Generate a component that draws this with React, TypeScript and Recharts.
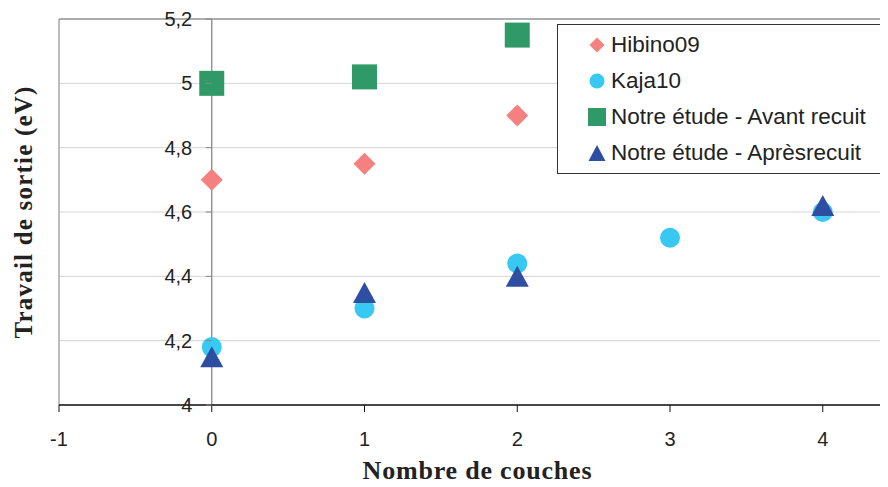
import React from "react";
import {
  ScatterChart,
  Scatter,
  XAxis,
  YAxis,
  CartesianGrid,
  ReferenceLine,
  Legend,
  Label,
} from "recharts";

// ---- data ----
const xTicks = [-1, 0, 1, 2, 3, 4];
const yTicks = [4, 4.2, 4.4, 4.6, 4.8, 5, 5.2];

const hibinoX = [0, 1, 2];
const hibinoY = [4.7, 4.75, 4.9];

const kajaX = [0, 1, 2, 3, 4];
const kajaY = [4.18, 4.3, 4.44, 4.52, 4.6];

const avantX = [0, 1, 2];
const avantY = [5.0, 5.02, 5.15];

const apresX = [0, 1, 2, 4];
const apresY = [4.15, 4.35, 4.4, 4.62];

const seriesNames = [
  "Hibino09",
  "Kaja10",
  "Notre étude - Avant recuit",
  "Notre étude - Aprèsrecuit",
];

const xTitle = "Nombre de couches";
const yTitle = "Travail de sortie (eV)";

// ---- layout ----
const W = 880;
const H = 479;
const XMIN = -1;
const XMAX = 4.427;
const YMIN = 4;
const YMAX = 5.2;
const M_LEFT = 51;
const M_TOP = 11;
const X_AXIS_H = 82;
const PLOT_W = W - M_LEFT;
const Y_AXIS_X = M_LEFT + (PLOT_W * (0 - XMIN)) / (XMAX - XMIN);

const COLORS = {
  hibino: "#F4817F",
  kaja: "#38C9F2",
  avant: "#2F9A68",
  apres: "#2E4EA2",
};

const SANS = "'Liberation Sans', Arial, sans-serif";
const SERIF = "'Liberation Serif', 'Times New Roman', serif";

const zip = (xs: number[], ys: number[]) => xs.map((x, i) => ({ x, y: ys[i] }));

const hibinoData = zip(hibinoX, hibinoY);
const kajaData = zip(kajaX, kajaY);
const avantData = zip(avantX, avantY);
const apresData = zip(apresX, apresY);

// ---- marker shapes ----
const diamondPath = (cx: number, cy: number, d: number) =>
  `M${cx},${cy - d / 2}L${cx + d / 2},${cy}L${cx},${cy + d / 2}L${cx - d / 2},${cy}Z`;
const trianglePath = (cx: number, cy: number, w: number, h: number) =>
  `M${cx},${cy - h / 2}L${cx + w / 2},${cy + h / 2}L${cx - w / 2},${cy + h / 2}Z`;

const DiamondShape = (p: any) => (
  <path d={diamondPath(p.cx, p.cy, 22)} fill={COLORS.hibino} />
);
const CircleShape = (p: any) => (
  <circle cx={p.cx} cy={p.cy} r={10} fill={COLORS.kaja} />
);
const SquareShape = (p: any) => (
  <rect x={p.cx - 12.5} y={p.cy - 12.5} width={25} height={25} fill={COLORS.avant} />
);
const TriangleShape = (p: any) => (
  <path d={trianglePath(p.cx, p.cy, 23, 21)} fill={COLORS.apres} />
);

const legendMarker = (name: string) => {
  const c = 10;
  if (name === seriesNames[0])
    return <path d={diamondPath(c, c, 15)} fill={COLORS.hibino} />;
  if (name === seriesNames[1])
    return <circle cx={c} cy={c} r={7.5} fill={COLORS.kaja} />;
  if (name === seriesNames[2])
    return <rect x={c - 9} y={c - 9} width={18} height={18} fill={COLORS.avant} />;
  return <path d={trianglePath(c, c, 17, 16)} fill={COLORS.apres} />;
};

const renderLegend = (props: any) => {
  const payload = [...(props.payload || [])].sort(
    (a: any, b: any) => seriesNames.indexOf(a.value) - seriesNames.indexOf(b.value)
  );
  return (
    <div
      style={{
        boxSizing: "border-box",
        width: 331,
        height: 150,
        border: "1px solid #333",
        background: "#fff",
        position: "relative",
      }}
    >
      {payload.map((item: any, i: number) => (
        <div
          key={i}
          style={{
            position: "absolute",
            left: 29,
            top: 21 + i * 36 - 11 - 1,
            height: 22,
            display: "flex",
            alignItems: "center",
            whiteSpace: "nowrap",
          }}
        >
          <svg width={20} height={20} style={{ display: "block" }}>
            {legendMarker(item.value)}
          </svg>
          <span
            style={{
              marginLeft: 4,
              fontFamily: SANS,
              fontSize: 22.5,
              color: "#222",
              lineHeight: "22px",
            }}
          >
            {item.value}
          </span>
        </div>
      ))}
    </div>
  );
};

const fmtY = (v: number) => String(Math.round(v * 10) / 10).replace(".", ",");

const YTick = (props: any) => {
  const { y, payload } = props;
  return (
    <g>
      <line x1={Y_AXIS_X - 6} y1={y} x2={Y_AXIS_X} y2={y} stroke="#888" />
      <text
        x={Y_AXIS_X - 19.5}
        y={y}
        dy={7}
        textAnchor="end"
        fontFamily={SANS}
        fontSize={20}
        fill="#222"
      >
        {fmtY(payload.value)}
      </text>
    </g>
  );
};

const XTick = (props: any) => {
  const { x, payload } = props;
  return (
    <text
      x={x}
      y={M_TOP + 386 + 41}
      textAnchor="middle"
      fontFamily={SANS}
      fontSize={20}
      fill="#222"
    >
      {String(payload.value)}
    </text>
  );
};

const XTitle = (props: any) => {
  const vb = props.viewBox || {};
  return (
    <text
      x={vb.x + vb.width / 2 + 4}
      y={vb.y + 74.3}
      textAnchor="middle"
      fontFamily={SERIF}
      fontWeight="bold"
      fontSize={26}
      letterSpacing={0.8}
      fill="#222"
    >
      {xTitle}
    </text>
  );
};

const YTitle = () => {
  const cx = 23.7;
  const cy = M_TOP + 193;
  return (
    <text
      x={cx}
      y={cy}
      transform={`rotate(-90, ${cx}, ${cy})`}
      textAnchor="middle"
      fontFamily={SERIF}
      fontWeight="bold"
      fontSize={25}
      letterSpacing={1.2}
      fill="#222"
    >
      {yTitle}
    </text>
  );
};

export default function App() {
  return (
    <ScatterChart
      width={W}
      height={H}
      margin={{ top: M_TOP, right: 0, bottom: 0, left: 0 }}
    >
      <CartesianGrid
        horizontal={true}
        vertical={false}
        stroke="#d4d4d4"
        strokeWidth={1}
      />
      <XAxis
        type="number"
        dataKey="x"
        domain={[XMIN, XMAX]}
        ticks={xTicks}
        allowDataOverflow
        height={X_AXIS_H}
        axisLine={{ stroke: "#111", strokeWidth: 1.3 }}
        tickLine={{ stroke: "#111" }}
        tickSize={7}
        tick={<XTick />}
        interval={0}
      >
        <Label content={<XTitle />} />
      </XAxis>
      <YAxis
        type="number"
        dataKey="y"
        domain={[YMIN, YMAX]}
        ticks={yTicks}
        allowDataOverflow
        width={M_LEFT}
        axisLine={false}
        tickLine={false}
        tick={<YTick />}
        interval={0}
      >
        <Label content={<YTitle />} />
      </YAxis>
      <ReferenceLine y={YMAX} stroke="#999" strokeWidth={1.3} />
      <ReferenceLine x={XMIN} stroke="#999" strokeWidth={1.3} />
      <ReferenceLine x={0} stroke="#888" strokeWidth={1.3} />
      <Legend
        layout="vertical"
        align="center"
        verticalAlign="middle"
        content={renderLegend}
        wrapperStyle={{ position: "absolute", left: 549, top: 16, width: 331, height: 150 }}
      />
      <Scatter
        name={seriesNames[0]}
        data={hibinoData}
        fill={COLORS.hibino}
        shape={DiamondShape}
        isAnimationActive={false}
      />
      <Scatter
        name={seriesNames[1]}
        data={kajaData}
        fill={COLORS.kaja}
        shape={CircleShape}
        isAnimationActive={false}
      />
      <Scatter
        name={seriesNames[2]}
        data={avantData}
        fill={COLORS.avant}
        shape={SquareShape}
        isAnimationActive={false}
      />
      <Scatter
        name={seriesNames[3]}
        data={apresData}
        fill={COLORS.apres}
        shape={TriangleShape}
        isAnimationActive={false}
      />
    </ScatterChart>
  );
}
